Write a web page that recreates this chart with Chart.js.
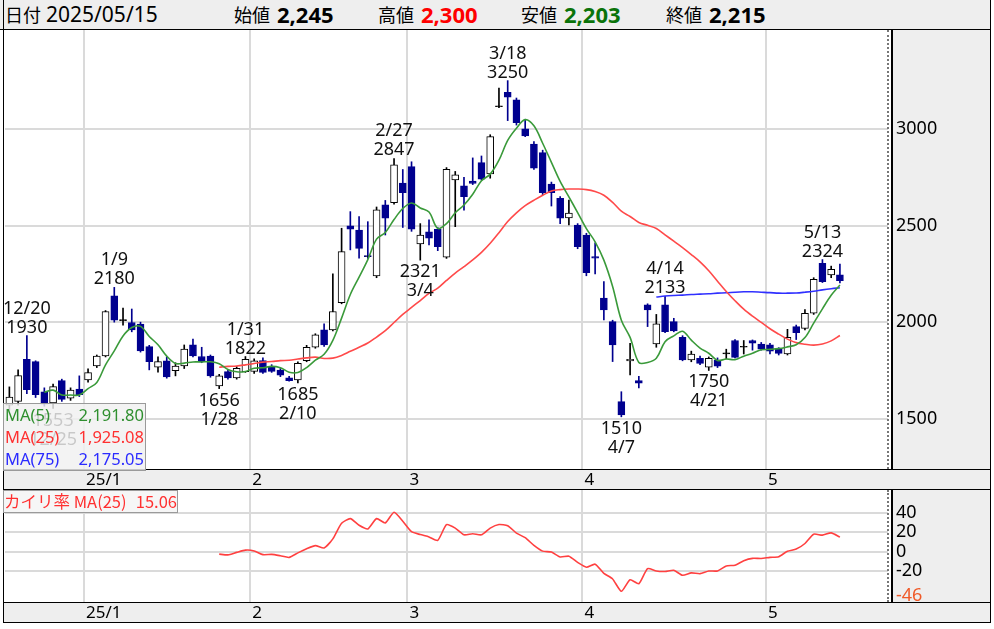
<!DOCTYPE html>
<html lang="ja">
<head>
  <meta charset="UTF-8">
  <title>日足チャート 2025/05/15</title>
  <style>
    body {
      margin: 0;
      width: 994px;
      height: 629px;
      position: relative;
      overflow: hidden;
      background: #fff;
      font-family: "Noto Sans CJK JP", "Noto Sans", sans-serif;
    }
    .abs { position: absolute; }
    .gray { background: #eeeeee; }
    .hl { background: #000; height: 1px; }
    .vl { background: #000; width: 1px; }
    #head span { position: absolute; top: 0; line-height: 29px; color: #000; white-space: nowrap; }
    #head .lb { font-size: 18px; }
    #head .nm { font-family: "Noto Sans", sans-serif; font-size: 21px; }
    #head .bd { font-family: "Noto Sans", sans-serif; font-size: 22px; font-weight: bold; }
    canvas { position: absolute; left: 0; }
    #legend {
      left: 3px; top: 403px; width: 141px; height: 66px;
      background: rgba(240, 240, 240, 0.82);
      border: 1px solid #9a9a9a;
      font-family: "Noto Sans", sans-serif; font-size: 16.5px;
    }
    #legend div { display: flex; justify-content: space-between; height: 22px; line-height: 22px; padding: 0 1px 0 1px; }
    #kairi {
      left: 3px; top: 490px; width: 173px; height: 21px;
      background: rgba(245, 245, 245, 0.9);
      border: 1px solid #9a9a9a;
      color: #ff3030; font-size: 16.5px; line-height: 21px; white-space: pre;
      display: flex; justify-content: space-between;
    }
  </style>
</head>
<body>
  <!-- frame backgrounds -->
  <div id="head" class="abs gray" style="left:0;top:0;width:990px;height:29px;">
    <span class="lb" style="left:5px">日付</span><span class="nm" style="left:46px">2025/05/15</span>
    <span class="lb" style="left:234px">始値</span><span class="bd" style="left:277px">2,245</span>
    <span class="lb" style="left:378px">高値</span><span class="bd" style="left:421px;color:#ff0000">2,300</span>
    <span class="lb" style="left:521px">安値</span><span class="bd" style="left:564px;color:#0a730a">2,203</span>
    <span class="lb" style="left:666px">終値</span><span class="bd" style="left:709px">2,215</span>
  </div>
  <div class="abs gray" style="left:892px;top:30px;width:98px;height:592px;"></div>
  <div class="abs gray" style="left:4px;top:470px;width:986px;height:19px;"></div>
  <div class="abs gray" style="left:4px;top:603px;width:986px;height:19px;"></div>

  <canvas id="main" width="994" height="460" style="top:30px"></canvas>
  <canvas id="sub" width="994" height="133" style="top:490px"></canvas>

  <!-- frame lines -->
  <div class="abs hl" style="left:0;top:29px;width:991px;"></div>
  <div class="abs hl" style="left:3px;top:469px;width:988px;"></div>
  <div class="abs hl" style="left:3px;top:489px;width:988px;"></div>
  <div class="abs hl" style="left:3px;top:602px;width:988px;"></div>
  <div class="abs hl" style="left:3px;top:622px;width:988px;"></div>
  <div class="abs vl" style="left:3px;top:0;height:623px;"></div>
  <div class="abs vl" style="left:990px;top:0;height:623px;"></div>
  <div class="abs" style="left:887px;top:30px;height:439px;border-left:2px dotted #777;"></div>
  <div class="abs" style="left:887px;top:490px;height:112px;border-left:2px dotted #777;"></div>
  <div class="abs" style="left:891px;top:30px;height:439px;width:2px;background:#000;"></div>
  <div class="abs" style="left:891px;top:490px;height:112px;width:2px;background:#000;"></div>

  <div id="legend" class="abs">
    <div style="color:#2f8f2f"><span>MA(5)</span><span>2,191.80</span></div>
    <div style="color:#ff3030"><span>MA(25)</span><span>1,925.08</span></div>
    <div style="color:#2b2bff"><span>MA(75)</span><span>2,175.05</span></div>
  </div>
  <div id="kairi" class="abs"><span>カイリ率 MA(25)</span><span>15.06</span></div>

  <script src="https://cdn.jsdelivr.net/npm/chart.js"></script>
  <script>
    const FONT = '"Noto Sans", "Noto Sans CJK JP", sans-serif';
    const NAVY = '#00008f';
    const SLOTS = 101;

    // trading days 2024/12/18 - 2025/05/15
    const dates = [
      '12/18','12/19','12/20','12/23','12/24','12/25','12/26','12/27','12/30',
      '1/6','1/7','1/8','1/9','1/10','1/14','1/15','1/16','1/17','1/20','1/21','1/22','1/23','1/24','1/27','1/28','1/29','1/30','1/31',
      '2/3','2/4','2/5','2/6','2/7','2/10','2/12','2/13','2/14','2/17','2/18','2/19','2/20','2/21','2/25','2/26','2/27','2/28',
      '3/3','3/4','3/5','3/6','3/7','3/10','3/11','3/12','3/13','3/14','3/17','3/18','3/19','3/21','3/24','3/25','3/26','3/27','3/28','3/31',
      '4/1','4/2','4/3','4/4','4/7','4/8','4/9','4/10','4/11','4/14','4/15','4/16','4/17','4/18','4/21','4/22','4/23','4/24','4/25','4/28','4/30',
      '5/1','5/2','5/7','5/8','5/9','5/12','5/13','5/14','5/15'
    ];
    const opens = [
      1570,1590,1808,1796,1640,1582,1697,1606,1654,
      1701,1773,1825,2136,2008,1998,1990,1873,1767,1800,1749,1773,1882,1822,1825,1670,1744,1712,1744,
      1745,1801,1770,1752,1712,1701,1801,1870,1960,1960,2101,2498,2477,2345,2239,2607,2619,2720,
      2805,2405,2468,2481,2336,2736,2705,2730,2826,2767,3115,3190,3150,3000,2922,2877,2715,2641,2539,2503,
      2451,2340,2124,2003,1589,1800,1697,2089,1887,2089,2003,1922,1804,1813,1767,1804,1836,1905,1870,1905,1887,
      1882,1860,1835,1977,1968,2046,2305,2245,2245
    ];
    const highs = [
      1665,1753,1930,1800,1660,1680,1705,1660,1722,
      1758,1830,2060,2180,2073,2068,2000,1880,1820,1820,1790,1882,1913,1870,1830,1730,1755,1770,1822,
      1810,1815,1780,1760,1720,1795,1880,1940,1991,2250,2486,2572,2546,2520,2596,2630,2847,2790,
      2830,2510,2530,2490,2800,2780,2750,2850,2860,2970,3211,3250,3160,3050,2935,2890,2725,2650,2632,2510,
      2460,2410,2210,2010,1640,1891,1720,2095,2040,2133,2020,1930,1850,1825,1820,1815,1860,1910,1905,1908,1895,
      1890,1868,1963,1985,2065,2230,2324,2290,2300
    ];
    const lows = [
      1545,1570,1630,1610,1565,1553,1590,1595,1615,
      1690,1765,1820,2000,1985,1950,1845,1753,1741,1710,1722,1760,1820,1790,1715,1656,1705,1705,1740,
      1735,1735,1740,1718,1695,1685,1795,1865,1875,1955,2095,2374,2331,2330,2230,2451,2610,2490,
      2470,2321,2400,2370,2330,2494,2580,2712,2735,2745,3110,3043,3020,2960,2790,2660,2601,2510,2503,2380,
      2240,2250,2011,1796,1510,1727,1660,1977,1870,1945,1950,1800,1795,1780,1750,1765,1810,1815,1835,1855,1855,
      1835,1830,1830,1910,1960,2040,2205,2230,2203
    ];
    const closes = [
      1612,1723,1650,1625,1575,1666,1600,1649,1625,
      1739,1825,2055,2010,2012,1960,1851,1796,1796,1716,1773,1861,1825,1796,1722,1722,1712,1761,1808,
      1800,1740,1745,1725,1697,1787,1870,1934,1882,2055,2365,2481,2382,2339,2581,2538,2814,2670,
      2481,2451,2434,2391,2791,2762,2650,2718,2740,2960,3120,3165,3033,2964,2797,2670,2670,2538,2565,2391,
      2256,2331,2063,1882,1520,1808,1684,2063,1991,1951,1955,1804,1835,1787,1813,1772,1840,1818,1875,1891,1860,
      1850,1838,1922,1945,2046,2222,2210,2274,2215
    ];

    // moving averages (first value at the given start index)
    const ma5Start = 4;
    const ma5 = [
      1637,1648,1623,1623,1623,1656,1688,1779,1851,1928,1972,1978,1926,1883,1824,1786,1788,1794,1794,1795,
      1785,1755,1743,1745,1761,1764,1771,1764,1741,1739,1765,1803,1834,1906,2021,2143,2233,2324,2430,2464,
      2531,2588,2617,2591,2570,2485,2510,2566,2606,2662,2732,2766,2838,2941,3004,3048,3016,2926,2827,2728,
      2648,2567,2484,2416,2321,2185,2010,1921,1791,1791,1813,1899,1929,1953,1907,1866,1839,1802,1809,1806,
      1824,1839,1857,1859,1863,1872,1883,1920,1995,2069,2139,2192
    ];
    const ma25Start = 24;
    const ma25 = [
      1767,1771,1773,1779,1786,1793,1796,1801,1803,1809,1815,1819,1812,1814,1828,1849,1870,1892,1923,1956,
      1998,2040,2076,2112,2149,2176,2216,2254,2287,2322,2361,2408,2463,2521,2566,2603,2631,2657,2679,2686,
      2689,2689,2686,2676,2657,2620,2574,2547,2516,2501,2485,2452,2419,2386,2350,2312,2266,2212,2159,2111,
      2067,2031,1999,1966,1938,1912,1894,1886,1881,1887,1903,1931
    ];
    const ma75Start = 74;
    const ma75 = [
      2130,2135,2138,2140,2143,2145,2147,2150,2152,2155,2157,2157,2155,2153,2150,2150,2151,2155,2160,2167,2173,2178
    ];
    const kairiStart = 24;
    const kairi = [
      -2.5,-3.3,-0.7,1.6,0.8,-3.0,-2.8,-4.2,-5.9,-1.2,3.0,6.3,3.9,13.3,29.4,34.2,27.4,23.6,34.2,29.8,
      40.8,31.5,20.7,17.7,15.3,11.8,28.0,24.4,17.5,18.6,17.5,24.4,28.1,26.9,19.2,14.5,6.6,0.6,-0.3,-5.5,
      -4.6,-11.1,-16.0,-12.9,-22.4,-28.2,-40.9,-29.0,-33.1,-17.5,-19.9,-20.4,-19.2,-24.4,-21.9,-22.7,-20.0,-19.9,-14.8,-13.9,
      -9.3,-6.9,-7.0,-5.9,-5.2,0.5,2.7,8.5,18.1,17.1,19.5,15.1
    ];

    // axis ticks
    const monthIdx = [9, 28, 46, 66, 87];
    const monthText = ['25/1', '2', '3', '4', '5'];
    const priceTicks = [1500, 2000, 2500, 3000];
    const kairiTicks = [-46, -20, 0, 20, 40];

    // high / low notes
    const annIdx  = [2, 5, 12, 24, 27, 33, 44, 47, 57, 70, 75, 80, 93];
    const annVal  = [1930, 1553, 2180, 1656, 1822, 1685, 2847, 2321, 3250, 1510, 2133, 1750, 2324];
    const annHigh = [true, false, true, false, true, false, true, false, true, false, true, false, true];

    const labels = dates.concat(Array(SLOTS - dates.length).fill(''));
    const pad = (start, arr) => Array(start).fill(null).concat(arr);
    const isUp = i => closes[i] >= opens[i];
    const isDoji = i => Math.abs(closes[i] - opens[i]) <= 6;

    const annPlugin = {
      id: 'notes',
      afterDatasetsDraw(chart) {
        const { ctx, scales: { x, y } } = chart;
        ctx.save();
        ctx.font = '18px ' + FONT;
        ctx.fillStyle = '#111';
        ctx.textAlign = 'center';
        annIdx.forEach((idx, k) => {
          const px = x.getPixelForValue(idx);
          const py = y.getPixelForValue(annVal[k]);
          if (annHigh[k]) {
            ctx.fillText(dates[idx], px, py - 22);
            ctx.fillText(String(annVal[k]), px, py - 3);
          } else {
            ctx.fillText(String(annVal[k]), px, py + 17);
            ctx.fillText(dates[idx], px, py + 36);
          }
        });
        ctx.restore();
      }
    };

    function xScale() {
      return {
        offset: true,
        grid: {
          offset: true, drawTicks: false, lineWidth: 2,
          color: c => monthIdx.includes(c.index) ? '#dadada' : 'rgba(0,0,0,0)'
        },
        border: { display: false },
        ticks: {
          autoSkip: false, maxRotation: 0, minRotation: 0, align: 'start', labelOffset: -2, padding: 1,
          color: '#000', font: { size: 17, family: FONT },
          callback: (v, i) => { const k = monthIdx.indexOf(i); return k >= 0 ? monthText[k] : ''; }
        },
        afterFit: s => { s.height = 21; s.paddingLeft = 0; s.paddingRight = 0; }
      };
    }

    new Chart(document.getElementById('main'), {
      type: 'bar',
      data: {
        labels: labels,
        datasets: [
          { type: 'line', data: pad(ma5Start, ma5), borderColor: '#3a9a3a', borderWidth: 1.6, pointRadius: 0, tension: 0.35, order: 0 },
          { type: 'line', data: pad(ma25Start, ma25), borderColor: '#ff4a4a', borderWidth: 1.6, pointRadius: 0, tension: 0.35, order: 0 },
          { type: 'line', data: pad(ma75Start, ma75), borderColor: '#3030ff', borderWidth: 1.6, pointRadius: 0, tension: 0.35, order: 0 },
          {
            data: opens.map((o, i) => [o, closes[i]]),
            grouped: false, barThickness: 7, minBarLength: 1, borderWidth: 1, borderSkipped: false,
            backgroundColor: c => isDoji(c.dataIndex) ? '#000' : (isUp(c.dataIndex) ? '#fff' : NAVY),
            borderColor: c => isUp(c.dataIndex) ? '#000' : NAVY,
            order: 1
          },
          {
            data: lows.map((l, i) => [l, highs[i]]),
            grouped: false, barThickness: 1, borderWidth: 0,
            backgroundColor: c => isUp(c.dataIndex) ? '#000' : NAVY,
            order: 2
          }
        ]
      },
      options: {
        responsive: false,
        animation: false,
        layout: { padding: { left: 5, right: 0, top: 0, bottom: 0 } },
        plugins: { legend: { display: false }, tooltip: { enabled: false } },
        scales: {
          x: xScale(),
          y: {
            position: 'right', min: 1240, max: 3512,
            afterBuildTicks: s => { s.ticks = priceTicks.map(v => ({ value: v })); },
            afterFit: s => { s.width = 106; s.paddingTop = 0; s.paddingBottom = 0; },
            grid: { color: '#dadada', lineWidth: 2, drawTicks: false },
            border: { display: false },
            ticks: { padding: 8, color: '#000', font: { size: 18, family: FONT }, callback: v => String(v) }
          }
        }
      },
      plugins: [annPlugin]
    });

    new Chart(document.getElementById('sub'), {
      type: 'line',
      data: {
        labels: labels,
        datasets: [
          { data: pad(kairiStart, kairi), borderColor: '#ff4040', borderWidth: 1.6, pointRadius: 0, tension: 0.2 }
        ]
      },
      options: {
        responsive: false,
        animation: false,
        layout: { padding: { left: 5, right: 0, top: 0, bottom: 0 } },
        plugins: { legend: { display: false }, tooltip: { enabled: false } },
        scales: {
          x: xScale(),
          y: {
            position: 'right', min: -52, max: 63.8,
            afterBuildTicks: s => { s.ticks = kairiTicks.map(v => ({ value: v })); },
            afterFit: s => { s.width = 106; s.paddingTop = 0; s.paddingBottom = 0; },
            grid: { color: c => c.tick && c.tick.value === -46 ? 'rgba(0,0,0,0)' : '#dadada', lineWidth: 2, drawTicks: false },
            border: { display: false },
            ticks: {
              padding: 8, font: { size: 18, family: FONT }, callback: v => String(v),
              color: c => c.tick && c.tick.value === -46 ? '#f05a28' : '#000'
            }
          }
        }
      }
    });
  </script>
</body>
</html>
